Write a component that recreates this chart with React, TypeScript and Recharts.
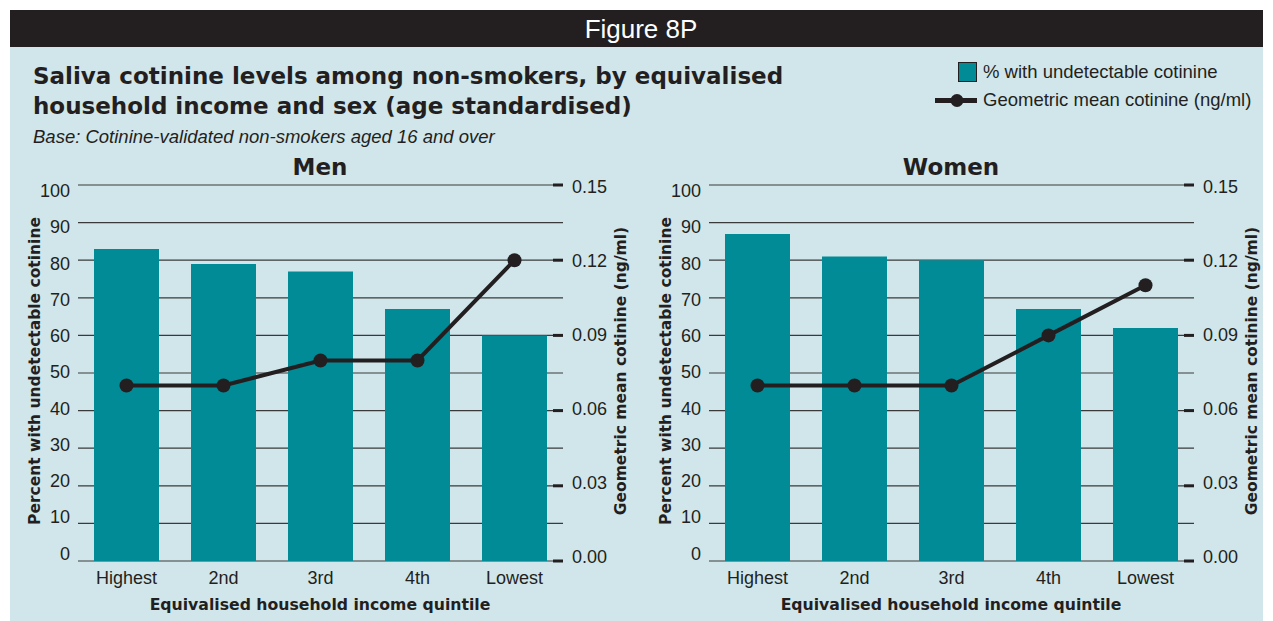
import React from "react";
import { Bar, CartesianGrid, ComposedChart, Line, XAxis, YAxis } from "recharts";

const categories = ["Highest", "2nd", "3rd", "4th", "Lowest"];
const menPercent = [83, 79, 77, 67, 60];
const menMean = [0.07, 0.07, 0.08, 0.08, 0.12];
const womenPercent = [87, 81, 80, 67, 62];
const womenMean = [0.07, 0.07, 0.07, 0.09, 0.11];
const percentTicks = [0, 10, 20, 30, 40, 50, 60, 70, 80, 90, 100];
const meanTicks = [0, 0.03, 0.06, 0.09, 0.12, 0.15];

const INK = "#231f20";
const TEAL = "#008b96";
const FONT = "'Liberation Sans', Arial, Helvetica, sans-serif";
const HEAVY = "'DejaVu Sans', 'Liberation Sans', sans-serif";

const LeftTick = ({ x, y, payload }: any) => {
    const v = payload.value;
    return (
        <text x={x} y={y - 7.5 + v * 0.135} textAnchor="end" dominantBaseline="central"
            fontSize={18} fill={INK} fontFamily={FONT}>
            {v}
        </text>
    );
};

const RightTick = ({ x, y, payload }: any) => {
    const v = payload.value;
    return (
        <g>
            <line x1={x - 19} x2={x - 9} y1={y} y2={y} stroke={INK} strokeWidth={3} />
            <text x={x} y={y - 4.3 + (v / 0.15) * 6.3} textAnchor="start" dominantBaseline="central"
                fontSize={18} fill={INK} fontFamily={FONT}>
                {v.toFixed(2)}
            </text>
        </g>
    );
};

const Rotated = ({ cx, cy, text }: any) => (
    <div style={{
        position: "absolute", left: cx, top: cy, transform: "translate(-50%,-50%) rotate(-90deg)",
        whiteSpace: "nowrap", fontSize: 15.5, fontWeight: 700, color: INK, fontFamily: HEAVY,
    }}>{text}</div>
);

const Centered = ({ cx, cy, text, size }: any) => (
    <div style={{
        position: "absolute", left: cx, top: cy, transform: "translate(-50%,-50%)",
        whiteSpace: "nowrap", fontSize: size, fontWeight: 700, color: INK, fontFamily: HEAVY,
    }}>{text}</div>
);

const Panel = ({ left, title, percent, mean }: any) => {
    const data = categories.map((c, i) => ({ name: c, percent: percent[i], mean: mean[i] }));
    return (
        <>
            <div style={{ position: "absolute", left, top: 150 }}>
                <ComposedChart width={640} height={470} data={data}
                    margin={{ top: 35, right: 17, bottom: 29, left: 28 }}>
                    <CartesianGrid vertical={false} stroke="#3a3a3a" strokeWidth={1.2} />
                    <XAxis dataKey="name" axisLine={false} tickLine={false} height={30} tickMargin={4}
                        tick={{ fontSize: 18, fill: INK, fontFamily: FONT }} />
                    <YAxis domain={[0, 100]} ticks={percentTicks} axisLine={false} tickLine={false}
                        width={50} tick={<LeftTick />} interval={0} />
                    <YAxis yAxisId="right" orientation="right" domain={[0, 0.15]} ticks={meanTicks}
                        axisLine={false} tickLine={false} tickSize={0} tickMargin={9} width={60}
                        tick={<RightTick />} interval={0} />
                    <Bar dataKey="percent" fill={TEAL} barSize={65} isAnimationActive={false} />
                    <Line yAxisId="right" dataKey="mean" stroke={INK} strokeWidth={4}
                        dot={{ r: 7, fill: INK, stroke: INK, strokeWidth: 0 }} isAnimationActive={false} />
                </ComposedChart>
            </div>
            <Centered cx={left + 320} cy={167} text={title} size={23} />
            <Rotated cx={left + 35} cy={371} text="Percent with undetectable cotinine" />
            <Rotated cx={left + 621} cy={371} text="Geometric mean cotinine (ng/ml)" />
            <Centered cx={left + 320} cy={604} text="Equivalised household income quintile" size={15.7} />
        </>
    );
};

const App = () => {
    return (
        <div style={{ position: "absolute", left: 0, top: 0, width: 1273, height: 621, background: "#fff", fontFamily: FONT }}>
            <div style={{ position: "absolute", left: 10, top: 10, width: 1253, height: 37, background: INK }}>
                <div style={{ position: "absolute", left: 631, top: 19, transform: "translate(-50%,-50%)", color: "#fff", fontSize: 26, whiteSpace: "nowrap" }}>
                    Figure 8P
                </div>
            </div>
            <div style={{ position: "absolute", left: 10, top: 47, width: 1253, height: 574, background: "#d0e6eb" }} />
            <div style={{ position: "absolute", left: 33, top: 61, fontSize: 23, fontWeight: 700, fontFamily: HEAVY, color: INK, lineHeight: "30px", whiteSpace: "nowrap" }}>
                Saliva cotinine levels among non-smokers, by equivalised<br />
                household income and sex (age standardised)
            </div>
            <div style={{ position: "absolute", left: 33, top: 126, fontSize: 18.5, fontStyle: "italic", color: INK, whiteSpace: "nowrap" }}>
                Base: Cotinine-validated non-smokers aged 16 and over
            </div>
            <svg style={{ position: "absolute", left: 930, top: 60 }} width={50} height={50}>
                <rect x={28.5} y={2.5} width={18} height={19} fill={TEAL} stroke={INK} strokeWidth={1} />
                <line x1={5} x2={47} y1={40.5} y2={40.5} stroke={INK} strokeWidth={5} />
                <circle cx={27} cy={40.5} r={6.5} fill={INK} />
            </svg>
            <div style={{ position: "absolute", left: 983, top: 61, fontSize: 18.5, color: INK, whiteSpace: "nowrap" }}>
                % with undetectable cotinine
            </div>
            <div style={{ position: "absolute", left: 983, top: 89, fontSize: 18.5, color: INK, whiteSpace: "nowrap" }}>
                Geometric mean cotinine (ng/ml)
            </div>
            <Panel left={0} title="Men" percent={menPercent} mean={menMean} />
            <Panel left={631} title="Women" percent={womenPercent} mean={womenMean} />
        </div>
    );
};

export default App;
